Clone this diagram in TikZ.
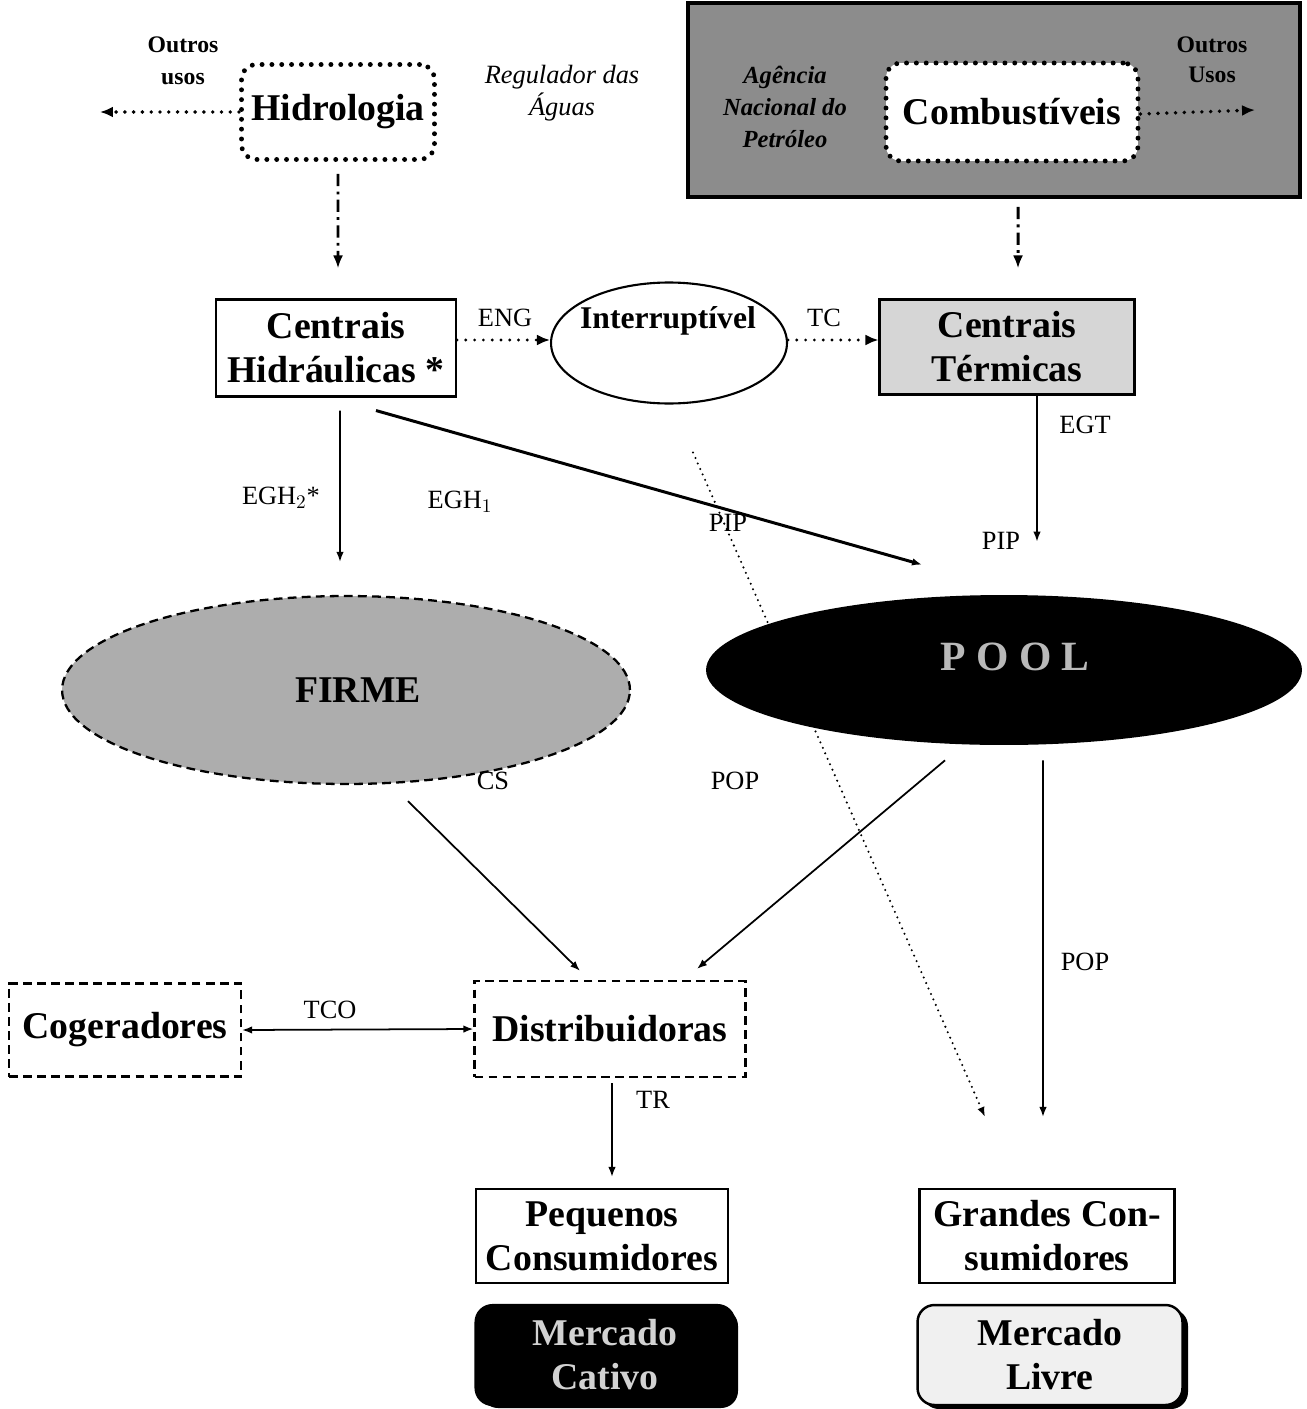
\documentclass[tikz,border=0pt]{standalone}
\usepackage{fontspec}
\setmainfont{Liberation Serif}
\usetikzlibrary{arrows.meta,shapes.geometric}

\begin{document}
\begin{tikzpicture}[x=0.02cm,y=-0.02cm,
  big/.style={font=\fontsize{21.5}{25}\selectfont\bfseries,align=center},
  lbl/.style={font=\fontsize{15}{17}\selectfont,inner sep=0pt},
  small/.style={font=\fontsize{13.5}{16}\selectfont\bfseries,align=center,inner sep=0pt},
  tip/.style={-{Latex[length=0.2cm,width=0.15cm]}},
  arr/.style={tip,line width=1pt},
  dotarr/.style={-{Latex[length=0.26cm,width=0.22cm]},line width=2.2pt,line cap=round,dash pattern=on 0pt off 5pt},
  finedots/.style={-{Latex[length=0.2cm,width=0.15cm]},line width=1.3pt,line cap=round,dash pattern=on 0pt off 3.4pt},
  dasharr/.style={-{Latex[length=0.26cm,width=0.2cm]},line width=1.7pt,dash pattern=on 7pt off 3pt on 1.6pt off 3pt},
  solidbox/.style={draw,line width=1.2pt,inner sep=0pt},
  dashbox/.style={draw,line width=1.3pt,dash pattern=on 5pt off 3pt,inner sep=0pt},
  dotbox/.style={draw,line width=2.8pt,line cap=round,dash pattern=on 0pt off 5.6pt,rounded corners=0.3cm,inner sep=0pt},
]
\useasboundingbox (0,0) rectangle (1306,1409);

% ---------- water and fuel supply ----------
\node[dotbox,minimum width=3.86cm,minimum height=1.9cm,big] (hid) at (338,112) {Hidrologia};
\node[small] (outL) at (183,61) {Outros\\[2pt]usos};
\coordinate (outLend) at (100,112);
\node[font=\fontsize{15}{17}\selectfont\itshape,align=center] (reg) at (562,93) {Regulador das\\[1pt]Águas};

\node[draw,line width=2.2pt,fill=black!45,minimum width=12.24cm,minimum height=3.88cm,inner sep=0pt] (band) at (994,100) {};
\node[dotbox,fill=white,minimum width=5.04cm,minimum height=1.96cm,big] (comb) at (1012,112) {Combustíveis};
\node[font=\fontsize{14}{18}\selectfont\bfseries\itshape,align=center] (anp) at (785,107) {Agência\\Nacional do\\Petróleo};
\node[small] (outR) at (1212,60) {Outros\\[1pt]Usos};
\coordinate (outRend) at (1255,110);

% ---------- generation ----------
\node[solidbox,minimum width=4.8cm,minimum height=1.94cm,big] (ch) at (336,348) {Centrais\\Hidráulicas *};
\node[draw,line width=1.2pt,ellipse,minimum width=4.72cm,minimum height=2.42cm] (inter) at (669,343) {};
\node[font=\fontsize{18}{20}\selectfont\bfseries] (interlbl) at (668,321) {Interruptível};
\node[solidbox,fill=black!16,minimum width=5.1cm,minimum height=1.9cm,big] (ct) at (1007,347) {Centrais\\Térmicas};

\node[lbl] (eng) at (505,318) {ENG};
\node[lbl] (tc) at (824,318) {TC};
\node[lbl] (egt) at (1085,425) {EGT};
\node[lbl] (egh2) at (281,498) {EGH$_2$*};
\node[lbl] (egh1) at (460,502) {EGH$_1$};
\node[lbl] (pip1) at (728,523) {PIP};
\node[lbl] (pip2) at (1001,541) {PIP};

% ---------- distribution and consumers ----------
\node[dashbox,minimum width=4.64cm,minimum height=1.86cm,big] (cog) at (125,1030) {Cogeradores};
\node[dashbox,minimum width=5.42cm,minimum height=1.92cm,big] (dist) at (610,1029) {Distribuidoras};
\node[lbl] (tco) at (330,1010) {TCO};
\node[lbl] (tr) at (653,1100) {TR};

\node[solidbox,minimum width=5.04cm,minimum height=1.88cm,big] (peq) at (602,1236) {Pequenos\\Consumidores};
\node[solidbox,minimum width=5.1cm,minimum height=1.88cm,big] (grandes) at (1047,1236) {Grandes Con-\\sumidores};

\fill[black,rounded corners=0.34cm] (481,1309) rectangle (738,1408);
\node[fill=black,draw=black,line width=1.2pt,rounded corners=0.34cm,minimum width=5.18cm,minimum height=2cm,big,text=gray!35] (cativo) at (605,1355) {Mercado\\Cativo};
\fill[black,rounded corners=0.34cm] (922,1309) rectangle (1188,1409);
\node[fill=gray!12,draw=black,line width=1.4pt,rounded corners=0.34cm,minimum width=5.3cm,minimum height=2cm,big] (livre) at (1050,1355) {Mercado\\Livre};

% ---------- markets ----------
\node[dashbox,fill=black!32,ellipse,minimum width=11.36cm,minimum height=3.76cm] (firme) at (346,690) {};
\node[big] (firmelbl) at (358,690) {FIRME};

% long dotted link, drawn before the pool so the pool covers it
\draw[finedots]
  ([xshift=0.48cm,yshift=-0.96cm]inter.south) -- ([xshift=-1.24cm,yshift=1.42cm]grandes.north);

\node[fill=black,ellipse,minimum width=11.92cm,minimum height=3cm] (pool) at (1004,670) {};
\node[font=\fontsize{23.7}{26}\selectfont\bfseries,text=gray!55] (poollbl) at (1015,657) {P O O L};

\node[lbl] (cs) at (493,781) {CS};
\node[lbl] (pop1) at (735,781) {POP};
\node[lbl] (pop2) at (1085,962) {POP};

% ---------- connectors ----------
\draw[dotarr] (hid.west) -- (outLend);
\draw[dotarr] ([yshift=-0.04cm]comb.east) -- (outRend);
\draw[dasharr] ([yshift=-0.24cm]hid.south) -- ([xshift=0.04cm,yshift=0.6cm]ch.north);
\draw[dasharr] ([xshift=0.48cm,yshift=-0.16cm]band.south) -- ([xshift=0.22cm,yshift=0.6cm]ct.north);

\draw[dotarr,line width=1.8pt] ([yshift=0.16cm]ch.east) -- ([yshift=0.06cm]inter.west);
\draw[dotarr,line width=1.8pt] ([yshift=0.06cm]inter.east) -- ([yshift=0.14cm]ct.west);

\draw[arr] ([xshift=0.08cm,yshift=-0.26cm]ch.south) -- ([xshift=-0.12cm,yshift=0.66cm]firme.north);
\draw[arr,line width=1.7pt] ([xshift=0.8cm,yshift=-0.26cm]ch.south) -- ([xshift=-1.64cm,yshift=0.6cm]pool.north);
\draw[arr] ([xshift=0.6cm]ct.south) -- ([xshift=0.66cm,yshift=1.06cm]pool.north);

\draw[arr] ([xshift=1.24cm,yshift=-0.32cm]firme.south) -- ([xshift=-0.6cm,yshift=0.18cm]dist.north);
\draw[arr] ([xshift=-1.18cm,yshift=-0.3cm]pool.south) -- ([xshift=1.74cm,yshift=0.22cm]dist.north);
\draw[arr] ([xshift=0.78cm,yshift=-0.3cm]pool.south) -- ([xshift=-0.08cm,yshift=1.42cm]grandes.north);

\draw[arr,{Latex[length=0.2cm,width=0.15cm]}-{Latex[length=0.2cm,width=0.15cm]}] (cog.east) -- (dist.west);
\draw[arr] ([xshift=0.04cm,yshift=-0.1cm]dist.south) -- ([xshift=0.2cm,yshift=0.22cm]peq.north);
\end{tikzpicture}
\end{document}
